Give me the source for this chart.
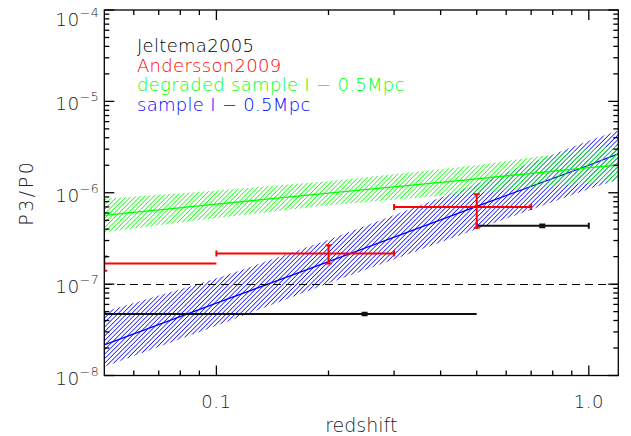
<!DOCTYPE html>
<html>
<head>
<meta charset="utf-8">
<script src="https://cdn.jsdelivr.net/npm/d3@7"></script>
<style>
  body { margin: 0; background: #fff; }
  svg { display: block; font-family: "DejaVu Sans", sans-serif; font-weight: 200; }
</style>
</head>
<body>
<script>
// ********************************** //
// ** Data
// ********************************** //
const bandZ = [0.05, 0.1, 0.2, 0.5, 1.0, 1.2];

// sample I - 0.5Mpc (blue)
const sampleMid = [2.16e-8, 6.2e-8, 1.76e-7, 7.1e-7, 2.0e-6, 2.66e-6];
const sampleHi = [5.0e-8, 1.15e-7, 3.05e-7, 1.25e-6, 3.7e-6, 4.8e-6];
const sampleLo = [1.25e-8, 3.5e-8, 1.02e-7, 4.0e-7, 1.1e-6, 1.4e-6];

// degraded sample I - 0.5Mpc (green)
const degradedMid = [5.66e-7, 7.5e-7, 9.9e-7, 1.42e-6, 1.88e-6, 2.0e-6];
const degradedHi = [8.6e-7, 1.06e-6, 1.34e-6, 2.0e-6, 3.0e-6, 3.3e-6];
const degradedLo = [3.7e-7, 5.3e-7, 7.3e-7, 1.0e-6, 1.27e-6, 1.36e-6];

// Jeltema2005 (black)
const jeltemaZ = [0.25, 0.75];
const jeltemaZLo = [0, 0.5];
const jeltemaZHi = [0.5, 1.0];
const jeltemaP = [4.7e-8, 4.35e-7];
const jeltemaPLo = [4.55e-8, 4.2e-7];
const jeltemaPHi = [4.85e-8, 4.5e-7];

// Andersson2009 (red)
const anderssonZ = [0.05, 0.2, 0.5];
const anderssonZLo = [0, 0.1, 0.3];
const anderssonZHi = [0.1, 0.3, 0.7];
const anderssonP = [1.68e-7, 2.16e-7, 6.97e-7];
const anderssonPLo = [1.4e-7, 1.68e-7, 4.15e-7];
const anderssonPHi = [2.0e-7, 2.66e-7, 9.6e-7];

const thresholdP = 1e-7;

const xMajorTicks = [0.1, 1.0];
const xTickLabels = ["0.1", "1.0"];
const yExponents = [-8, -7, -6, -5, -4];

const legendLabels = [
  "Jeltema2005",
  "Andersson2009",
  "degraded sample I \u2212 0.5Mpc",
  "sample I \u2212 0.5Mpc"
];
const legendColors = ["#000000", "#ff0000", "#00ff00", "#0000ff"];

// ********************************** //
// ** Layout
// ********************************** //
const width = 631;
const height = 436;
const margin = { top: 10, right: 12.7, bottom: 60.5, left: 104.3 };

const x = d3
  .scaleLog()
  .domain([0.05, 1.2])
  .range([margin.left, width - margin.right]);
const y = d3
  .scaleLog()
  .domain([1e-8, 1e-4])
  .range([height - margin.bottom, margin.top]);

const [x0, x1] = x.range();
const [y0, y1] = y.range();
const xc = v => x(Math.max(v, x.domain()[0] * 0.9));

const svg = d3
  .select("body")
  .append("svg")
  .attr("width", width)
  .attr("height", height);

const defs = svg.append("defs");
defs
  .append("clipPath")
  .attr("id", "plot-clip")
  .append("rect")
  .attr("x", x0)
  .attr("y", y1)
  .attr("width", x1 - x0)
  .attr("height", y0 - y1);

// hatch patterns
const addHatch = (id, color) => {
  defs
    .append("pattern")
    .attr("id", id)
    .attr("patternUnits", "userSpaceOnUse")
    .attr("width", 3.2)
    .attr("height", 10)
    .attr("patternTransform", "rotate(45)")
    .append("line")
    .attr("x1", 0.8)
    .attr("x2", 0.8)
    .attr("y1", 0)
    .attr("y2", 10)
    .attr("stroke", color)
    .attr("stroke-width", 0.9)
    .attr("shape-rendering", "crispEdges");
};
addHatch("hatch-blue", "#0000ff");
addHatch("hatch-green", "#00ff00");

const plot = svg.append("g").attr("clip-path", "url(#plot-clip)");

// ********************************** //
// ** Bands
// ********************************** //
const drawBand = (mid, lo, hi, color, hatchId) => {
  const rows = bandZ.map((z, i) => ({ z, mid: mid[i], lo: lo[i], hi: hi[i] }));
  const area = d3
    .area()
    .x(d => x(d.z))
    .y0(d => y(d.lo))
    .y1(d => y(d.hi));
  const line = d3
    .line()
    .x(d => x(d.z))
    .y(d => y(d.mid));
  plot
    .append("path")
    .datum(rows)
    .attr("d", area)
    .attr("fill", `url(#${hatchId})`);
  plot
    .append("path")
    .datum(rows)
    .attr("d", line)
    .attr("fill", "none")
    .attr("stroke", color)
    .attr("stroke-width", 1.3);
};

drawBand(sampleMid, sampleLo, sampleHi, "#0000ff", "hatch-blue");
drawBand(degradedMid, degradedLo, degradedHi, "#00ff00", "hatch-green");

// dashed threshold
plot
  .append("line")
  .attr("x1", x0)
  .attr("x2", x1)
  .attr("y1", y(thresholdP))
  .attr("y2", y(thresholdP))
  .attr("stroke", "#000")
  .attr("stroke-width", 1)
  .attr("shape-rendering", "crispEdges")
  .attr("stroke-dasharray", "8,5");

// ********************************** //
// ** Error bars
// ********************************** //
const capHalf = 3;
const drawErrors = (zs, zLo, zHi, ps, pLo, pHi, color, lw) => {
  const g = plot.append("g").attr("stroke", color).attr("stroke-width", lw);
  zs.forEach((z, i) => {
    const cx = x(z);
    const cy = y(ps[i]);
    const xl = xc(zLo[i]);
    const xr = x(zHi[i]);
    // horizontal bar
    g.append("line").attr("x1", xl).attr("x2", xr).attr("y1", cy).attr("y2", cy);
    if (zLo[i] > 0) {
      g.append("line").attr("x1", xl).attr("x2", xl)
        .attr("y1", cy - capHalf).attr("y2", cy + capHalf);
      g.append("line").attr("x1", xr).attr("x2", xr)
        .attr("y1", cy - capHalf).attr("y2", cy + capHalf);
    }
    // vertical bar
    const yt = y(pHi[i]);
    const yb = y(pLo[i]);
    g.append("line").attr("x1", cx).attr("x2", cx).attr("y1", yt).attr("y2", yb);
    g.append("line").attr("x1", cx - capHalf).attr("x2", cx + capHalf)
      .attr("y1", yt).attr("y2", yt);
    g.append("line").attr("x1", cx - capHalf).attr("x2", cx + capHalf)
      .attr("y1", yb).attr("y2", yb);
  });
};

drawErrors(jeltemaZ, jeltemaZLo, jeltemaZHi, jeltemaP, jeltemaPLo, jeltemaPHi, "#111", 2);
drawErrors(anderssonZ, anderssonZLo, anderssonZHi, anderssonP, anderssonPLo, anderssonPHi, "#ff0000", 2);

// ********************************** //
// ** Axes
// ********************************** //
const axes = svg.append("g").attr("stroke", "#000").attr("stroke-width", 1.3);
axes
  .append("rect")
  .attr("x", x0)
  .attr("y", y1)
  .attr("width", x1 - x0)
  .attr("height", y0 - y1)
  .attr("fill", "none");

const majorLen = 10;
const minorLen = 5;

// x ticks (bottom and top, pointing inward)
const xMinor = [];
[0.01, 0.1, 1].forEach(dec => {
  for (let k = 2; k <= 9; k++) {
    const v = dec * k;
    if (v > x.domain()[0] && v < x.domain()[1]) xMinor.push(v);
  }
});
xMinor.forEach(v => {
  axes.append("line").attr("x1", x(v)).attr("x2", x(v)).attr("y1", y0).attr("y2", y0 - minorLen);
  axes.append("line").attr("x1", x(v)).attr("x2", x(v)).attr("y1", y1).attr("y2", y1 + minorLen);
});
xMajorTicks.forEach(v => {
  axes.append("line").attr("x1", x(v)).attr("x2", x(v)).attr("y1", y0).attr("y2", y0 - majorLen);
  axes.append("line").attr("x1", x(v)).attr("x2", x(v)).attr("y1", y1).attr("y2", y1 + majorLen);
});

// y ticks (left and right)
const yMinor = [];
yExponents.slice(0, -1).forEach(e => {
  for (let k = 2; k <= 9; k++) yMinor.push(k * Math.pow(10, e));
});
yMinor.forEach(v => {
  axes.append("line").attr("x1", x0).attr("x2", x0 + minorLen).attr("y1", y(v)).attr("y2", y(v));
  axes.append("line").attr("x1", x1).attr("x2", x1 - minorLen).attr("y1", y(v)).attr("y2", y(v));
});
yExponents.forEach(e => {
  const v = Math.pow(10, e);
  axes.append("line").attr("x1", x0).attr("x2", x0 + majorLen).attr("y1", y(v)).attr("y2", y(v));
  axes.append("line").attr("x1", x1).attr("x2", x1 - majorLen).attr("y1", y(v)).attr("y2", y(v));
});

// tick labels
const labels = svg.append("g").attr("fill", "#222");
xMajorTicks.forEach((v, i) => {
  labels
    .append("text")
    .attr("x", x(v))
    .attr("y", y0 + 32)
    .attr("text-anchor", "middle")
    .attr("font-size", 18)
    .attr("letter-spacing", 0.5)
    .text(xTickLabels[i]);
});
yExponents.forEach(e => {
  const t = labels
    .append("text")
    .attr("x", x0 - 5)
    .attr("y", Math.max(y(Math.pow(10, e)) + 9, 26))
    .attr("text-anchor", "end")
    .attr("font-size", 18.5)
    .attr("letter-spacing", 0.5);
  t.append("tspan").text("10");
  t.append("tspan")
    .attr("font-size", 12.5)
    .attr("dy", -9)
    .text(`\u2212${Math.abs(e)}`);
});

// axis titles
labels
  .append("text")
  .attr("x", (x0 + x1) / 2)
  .attr("y", 431.5)
  .attr("text-anchor", "middle")
  .attr("font-size", 19)
  .text("redshift");
labels
  .append("text")
  .attr("transform", `translate(33,${(y0 + y1) / 2}) rotate(-90)`)
  .attr("text-anchor", "middle")
  .attr("font-size", 19)
  .attr("letter-spacing", 2.5)
  .text("P3/P0");

// ********************************** //
// ** Legend
// ********************************** //
legendLabels.forEach((label, i) => {
  svg
    .append("text")
    .attr("x", 137)
    .attr("y", 52 + i * 19.6)
    .attr("font-size", 18)
    .attr("letter-spacing", 0.3)
    .attr("fill", legendColors[i])
    .text(label);
});
</script>
</body>
</html>
